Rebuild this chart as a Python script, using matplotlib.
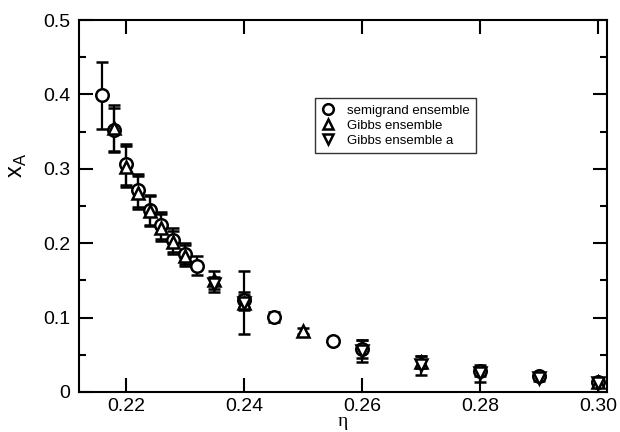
import matplotlib
matplotlib.use("Agg")
import matplotlib.pyplot as plt
from matplotlib.ticker import MultipleLocator

plt.rcParams["font.family"] = ["Liberation Sans", "DejaVu Sans"]

# semigrand ensemble (circles)
eta_sg = [0.216, 0.218, 0.220, 0.222, 0.224, 0.226, 0.228, 0.230, 0.232,
          0.240, 0.245, 0.255, 0.260, 0.280, 0.290, 0.300]
x_sg = [0.399, 0.352, 0.306, 0.271, 0.245, 0.224, 0.204, 0.186, 0.170,
        0.124, 0.101, 0.068, 0.058, 0.028, 0.021, 0.013]
err_sg = [0.045, 0.030, 0.028, 0.022, 0.020, 0.018, 0.016, 0.014, 0.013,
          0.010, 0.007, 0.004, 0.012, 0.006, 0.004, 0.003]

# Gibbs ensemble (up triangles)
eta_gb = [0.218, 0.220, 0.222, 0.224, 0.226, 0.228, 0.230,
          0.235, 0.240, 0.250, 0.270, 0.300]
x_gb = [0.355, 0.303, 0.268, 0.243, 0.221, 0.201, 0.183,
        0.150, 0.120, 0.082, 0.040, 0.014]
err_gb = [0.031, 0.028, 0.022, 0.020, 0.018, 0.016, 0.014,
          0.012, 0.010, 0.004, 0.008, 0.003]

# Gibbs ensemble a (down triangles)
eta_ga = [0.235, 0.240, 0.260, 0.270, 0.280, 0.290, 0.300]
x_ga = [0.145, 0.120, 0.055, 0.036, 0.025, 0.019, 0.012]
err_ga = [0.010, 0.042, 0.015, 0.013, 0.011, 0.004, 0.004]

fig = plt.figure(figsize=(6.2, 4.32), dpi=100)
ax = fig.add_axes([0.127, 0.0926, 0.852, 0.861])

style = dict(color="black", mfc="white", mec="black", mew=1.8, ms=9,
             ls="none", elinewidth=1.6, capsize=4.5, capthick=1.6)
ax.errorbar(eta_sg, x_sg, yerr=err_sg, marker="o", label="semigrand ensemble", **style)
ax.errorbar(eta_gb, x_gb, yerr=err_gb, marker="^", label="Gibbs ensemble", **style)
ax.errorbar(eta_ga, x_ga, yerr=err_ga, marker="v", label="Gibbs ensemble a", **style)

ax.set_xlim(0.212, 0.3015)
ax.set_ylim(0, 0.5)
ax.yaxis.set_minor_locator(MultipleLocator(0.05))
ax.set_xticks([0.22, 0.24, 0.26, 0.28, 0.30])
ax.set_xticklabels(["0.22", "0.24", "0.26", "0.28", "0.30"])
ax.set_yticks([0, 0.1, 0.2, 0.3, 0.4, 0.5])
ax.set_yticklabels(["0", "0.1", "0.2", "0.3", "0.4", "0.5"])
ax.tick_params(which="both", direction="in", top=True, right=True,
               labelsize=14, width=1.5, pad=6)
ax.tick_params(axis="x", pad=4)
ax.tick_params(which="major", length=10)
ax.tick_params(which="minor", length=5)
for s in ax.spines.values():
    s.set_linewidth(1.5)

ax.set_xlabel("η", fontsize=14, family=["Liberation Serif", "DejaVu Serif"], labelpad=-1)
ax.set_ylabel(r"x$_\mathregular{A}$", fontsize=17)
ax.yaxis.set_label_coords(-0.095, 0.61)

handles, labels = ax.get_legend_handles_labels()
handles = [h[0] for h in handles]
leg = ax.legend(handles, labels, loc="upper left", bbox_to_anchor=(0.447, 0.79),
                fontsize=9.5, frameon=True, fancybox=False, edgecolor="black",
                handletextpad=0.9, handlelength=1.0, borderpad=0.5,
                labelspacing=0.2, borderaxespad=0, markerscale=0.85)
leg.get_frame().set_linewidth(1.0)

fig.savefig("out.png", dpi=100)
